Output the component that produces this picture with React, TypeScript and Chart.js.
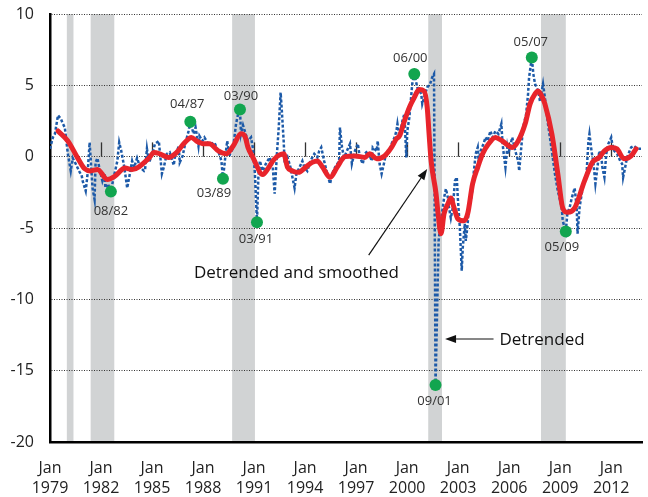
import React, { useEffect, useRef } from 'react';
import { Chart, registerables } from 'chart.js';

Chart.register(...registerables);

const xTickYears = [1979, 1982, 1985, 1988, 1991, 1994, 1997, 2000, 2003, 2006, 2009, 2012];
const yMin = -20;
const yMax = 10;
const xMin = 1979;
const xMax = 2013.81;

const recessionStarts = [1979.99, 1981.39, 1989.71, 2001.24, 2007.87];
const recessionEnds = [1980.38, 1982.78, 1991.05, 2002.05, 2009.33];

const detrendedDates = [
  1979.0, 1979.17, 1979.29, 1979.47, 1979.64, 1979.76, 1979.87, 1980.05, 1980.22, 1980.34,
  1980.51, 1980.75, 1980.86, 1980.92, 1981.1, 1981.21, 1981.33, 1981.39, 1981.5, 1981.62,
  1981.68, 1981.79, 1981.91, 1982.08, 1982.2, 1982.26, 1982.4, 1982.58, 1982.7, 1982.96,
  1983.07, 1983.19, 1983.37, 1983.54, 1983.71, 1983.83, 1983.95, 1984.12, 1984.3, 1984.53,
  1984.59, 1984.7, 1984.82, 1985.0, 1985.17, 1985.4, 1985.58, 1985.69, 1985.87, 1986.04,
  1986.28, 1986.33, 1986.57, 1986.63, 1986.8, 1986.92, 1987.15, 1987.25, 1987.44, 1987.56,
  1987.73, 1987.79, 1987.96, 1988.08, 1988.31, 1988.49, 1988.66, 1988.84, 1988.95, 1989.08,
  1989.17, 1989.3, 1989.42, 1989.54, 1989.77, 1989.94, 1990.06, 1990.17, 1990.23, 1990.35,
  1990.53, 1990.64, 1990.82, 1990.93, 1991.05, 1991.17, 1991.25, 1991.34, 1991.51, 1991.69,
  1991.92, 1992.1, 1992.21, 1992.33, 1992.45, 1992.56, 1992.62, 1992.74, 1992.8, 1992.97,
  1993.14, 1993.38, 1993.49, 1993.67, 1993.84, 1993.96, 1994.13, 1994.31, 1994.54, 1994.72,
  1994.83, 1994.95, 1995.12, 1995.3, 1995.47, 1995.59, 1995.76, 1996.0, 1996.05, 1996.17,
  1996.29, 1996.46, 1996.64, 1996.75, 1996.93, 1997.1, 1997.22, 1997.39, 1997.51, 1997.68,
  1997.92, 1997.98, 1998.21, 1998.27, 1998.38, 1998.5, 1998.67, 1998.79, 1998.97, 1999.08,
  1999.26, 1999.37, 1999.43, 1999.55, 1999.72, 1999.84, 1999.95, 2000.01, 2000.13, 2000.25,
  2000.3, 2000.42, 2000.6, 2000.83, 2000.89, 2001.0, 2001.18, 2001.35, 2001.47, 2001.58,
  2001.67, 2001.85, 2001.99, 2002.17, 2002.28, 2002.4, 2002.46, 2002.57, 2002.69, 2002.81,
  2002.92, 2002.98, 2003.1, 2003.21, 2003.27, 2003.39, 2003.45, 2003.56, 2003.62, 2003.74,
  2003.85, 2003.91, 2004.03, 2004.15, 2004.2, 2004.32, 2004.49, 2004.61, 2004.73, 2004.9,
  2005.02, 2005.19, 2005.37, 2005.54, 2005.6, 2005.66, 2005.78, 2005.89, 2005.95, 2006.18,
  2006.36, 2006.53, 2006.59, 2006.71, 2006.82, 2007.0, 2007.11, 2007.17, 2007.33, 2007.42,
  2007.52, 2007.7, 2007.81, 2007.99, 2008.1, 2008.28, 2008.51, 2008.69, 2008.86, 2009.09,
  2009.15, 2009.33, 2009.42, 2009.56, 2009.68, 2009.85, 2009.97, 2010.02, 2010.14, 2010.32,
  2010.55, 2010.66, 2010.72, 2010.84, 2010.96, 2011.07, 2011.19, 2011.3, 2011.42, 2011.48,
  2011.6, 2011.71, 2011.83, 2012.0, 2012.06, 2012.18, 2012.35, 2012.53, 2012.64, 2012.7,
  2012.82, 2012.93, 2013.17, 2013.34, 2013.52, 2013.75,
];
const detrendedValues = [
  0.55, 1.35, 1.6, 2.9, 2.65, 2.3, 2.05, 0.2, -1.0, -0.1,
  -0.5, -1.1, -1.3, -1.7, -2.4, -1.2, 1.0, -0.1, -2.2, -3.0,
  -0.4, -0.1, -0.85, -1.7, -1.2, -2.2, -1.9, -2.45, -1.7, -0.3,
  1.0, 0.4, -0.75, -2.2, -1.1, -0.3, -0.75, -0.1, -0.75, -1.0,
  -0.9, 0.55, -0.4, 0.1, 0.9, 1.1, -1.2, -0.75, 0.2, 0.3,
  -0.6, -0.1, 0.75, -0.4, 0.05, 0.75, 1.8, 2.45, 1.6, 2.05,
  0.75, 1.45, 1.1, 1.35, 0.9, 0.9, 1.0, 0.55, 0.2, -0.3,
  -1.55, -0.1, 1.1, 0.05, 0.65, 2.3, 3.0, 3.3, 1.6, 2.2,
  1.5, 1.1, 1.35, 0.6, -1.2, -4.6, -1.45, -0.3, -1.0, -0.5,
  -0.05, -0.75, -2.6, -0.05, 2.05, 4.5, 3.45, 1.1, -0.5, -0.05,
  -0.75, -2.2, -1.2, -0.75, -0.3, -0.75, -1.0, -0.3, 0.2, -0.05,
  0.4, 0.65, -0.3, -1.2, -1.9, -1.2, -0.75, -0.3, 2.05, 0.65,
  -0.05, 0.4, 0.9, -0.5, 0.4, 0.9, -0.05, -0.5, 0.2, 0.4,
  -0.3, 0.65, 0.4, 1.1, -0.5, -1.2, -0.3, 0.4, 0.4, 0.9,
  1.35, 1.8, 2.3, 1.35, 2.5, 3.0, -0.05, 1.8, 2.75, 4.4,
  5.1, 5.8, 4.85, 4.4, 3.7, 4.15, 4.85, 5.1, 5.55, 5.8,
  -16.0, -5.9, -4.5, -2.9, -2.25, -2.9, -3.55, -4.3, -3.55, -1.7,
  -1.45, -2.9, -5.0, -8.0, -6.4, -4.7, -5.9, -4.7, -3.55, -3.1,
  -2.2, -1.2, 0.2, 0.65, -0.3, 0.4, 0.9, 1.35, 1.1, 1.8,
  1.35, 1.8, 1.6, 2.3, 1.1, 0.4, -0.75, 0.65, 0.2, 1.35,
  0.4, -0.3, -1.0, 0.65, 2.05, 3.0, 4.4, 5.55, 6.95, 5.8,
  5.1, 4.6, 3.9, 5.1, 4.15, 2.3, 0.4, -1.2, -2.4, -3.55,
  -4.5, -5.25, -4.0, -3.55, -2.9, -2.2, -3.55, -5.4, -3.55, -2.2,
  -1.2, 1.1, 1.6, 0.4, -0.5, -1.9, -0.75, 0.4, -0.05, -0.75,
  -1.45, 0.2, 0.9, 1.35, 0.9, 0.4, 0.2, -0.3, -0.5, -1.45,
  -0.75, -0.05, 0.65, 0.75, 0.55, 0.55,
];

const smoothedDates = [
  1979.47, 1980.05, 1980.63, 1981.04, 1981.39, 1981.79, 1982.38, 1982.78, 1983.42, 1983.83,
  1984.82, 1985.11, 1985.46, 1985.98, 1986.45, 1986.86, 1987.32, 1987.61, 1988.08, 1988.37,
  1988.9, 1989.36, 1989.77, 1990.23, 1990.47, 1990.64, 1990.93, 1991.51, 1991.81, 1992.1,
  1992.39, 1992.74, 1992.97, 1993.26, 1993.61, 1994.02, 1994.42, 1994.72, 1995.01, 1995.47,
  1995.88, 1996.35, 1996.93, 1997.51, 1997.8, 1998.21, 1998.67, 1999.08, 1999.37, 1999.55,
  1999.84, 2000.13, 2000.42, 2000.71, 2001.0, 2001.18, 2001.29, 2001.41, 2001.7, 2001.82,
  2001.99, 2002.17, 2002.4, 2002.57, 2002.75, 2002.98, 2003.33, 2003.56, 2003.85, 2004.15,
  2004.44, 2004.79, 2005.19, 2005.6, 2006.18, 2006.53, 2006.94, 2007.23, 2007.52, 2007.7,
  2007.99, 2008.1, 2008.51, 2008.86, 2009.15, 2009.44, 2009.85, 2010.43, 2010.89, 2011.3,
  2011.6, 2012.0, 2012.33, 2012.76, 2013.17, 2013.46,
];
const smoothedValues = [
  1.8, 1.1, -0.1, -0.85, -1.0, -0.9, -1.6, -1.4, -0.8, -0.9,
  -0.1, 0.3, 0.2, -0.05, 0.3, 0.9, 1.35, 1.1, 0.9, 0.9,
  0.4, 0.2, 0.75, 1.6, 1.4, 0.65, -0.05, -1.25, -0.85, -0.3,
  0.05, 0.2, -0.75, -1.0, -1.1, -0.75, -0.4, -0.3, -0.7, -1.45,
  -0.75, 0.0, 0.05, -0.05, 0.2, -0.15, 0.05, 0.65, 1.25, 1.45,
  2.5, 3.45, 4.15, 4.7, 4.6, 3.45, 1.6, -0.3, -2.6, -4.0,
  -5.4, -4.0, -3.3, -2.9, -3.55, -4.35, -4.5, -4.0, -1.9, -0.75,
  0.2, 0.9, 1.35, 1.1, 0.65, 1.1, 2.3, 3.7, 4.4, 4.6,
  4.05, 3.7, 1.6, -1.2, -3.6, -3.9, -3.6, -1.7, -0.4, -0.05,
  0.4, 0.65, 0.55, -0.15, 0.05, 0.55,
];

const markerDates = [1982.58, 1987.25, 1989.17, 1990.17, 1991.17, 2000.42, 2001.67, 2007.33, 2009.33];
const markerValues = [-2.45, 2.45, -1.55, 3.3, -4.6, 5.8, -16.0, 6.95, -5.25];
const markerLabels = ['08/82', '04/87', '03/89', '03/90', '03/91', '06/00', '09/01', '05/07', '05/09'];

const FONT = '"Open Sans", "Noto Sans", sans-serif';

// label offsets (pixels) relative to the marker
const markerLabelOffsets: [number, number][] = [
  [0, 20], [-3, -17], [-9, 15], [1, -13], [-1, 17], [-4, -16], [-1, 16], [-1, -15], [-4, 16],
];

const bandsPlugin = {
  id: 'bands',
  beforeDraw(chart: any) {
    const { ctx, chartArea, scales } = chart;
    const xs = scales.x;
    ctx.save();
    ctx.fillStyle = '#d1d3d4';
    for (let i = 0; i < recessionStarts.length; i++) {
      const a = xs.getPixelForValue(recessionStarts[i]);
      const b = xs.getPixelForValue(recessionEnds[i]);
      ctx.fillRect(a, chartArea.top, b - a, chartArea.bottom - chartArea.top);
    }
    ctx.restore();
  },
  beforeDatasetsDraw(chart: any) {
    const { ctx, scales } = chart;
    const xs = scales.x;
    const ys = scales.y;
    const y0 = ys.getPixelForValue(0);
    const y1 = ys.getPixelForValue(1);
    ctx.save();
    ctx.strokeStyle = '#333';
    ctx.lineWidth = 1.3;
    for (const yr of xTickYears.slice(1)) {
      const x = Math.round(xs.getPixelForValue(yr)) + 0.5;
      ctx.beginPath();
      ctx.moveTo(x, y0);
      ctx.lineTo(x, y1);
      ctx.stroke();
    }
    ctx.restore();
  },
};

function arrow(ctx: CanvasRenderingContext2D, x1: number, y1: number, x2: number, y2: number) {
  const ang = Math.atan2(y2 - y1, x2 - x1);
  const hl = 11;
  const hw = 4;
  const bx = x2 - hl * Math.cos(ang);
  const by = y2 - hl * Math.sin(ang);
  ctx.beginPath();
  ctx.moveTo(x1, y1);
  ctx.lineTo(bx, by);
  ctx.stroke();
  ctx.beginPath();
  ctx.moveTo(x2, y2);
  ctx.lineTo(bx + hw * Math.sin(ang), by - hw * Math.cos(ang));
  ctx.lineTo(bx - hw * Math.sin(ang), by + hw * Math.cos(ang));
  ctx.closePath();
  ctx.fill();
}

const annotationPlugin = {
  id: 'annotations',
  afterDatasetsDraw(chart: any) {
    const { ctx, scales } = chart;
    const xs = scales.x;
    const ys = scales.y;
    const px = (v: number) => xs.getPixelForValue(v);
    const py = (v: number) => ys.getPixelForValue(v);
    ctx.save();
    ctx.fillStyle = '#333';
    ctx.font = `13px ${FONT}`;
    ctx.textAlign = 'center';
    ctx.textBaseline = 'middle';
    for (let i = 0; i < markerLabels.length; i++) {
      const [dx, dy] = markerLabelOffsets[i];
      ctx.fillText(markerLabels[i], px(markerDates[i]) + dx, py(markerValues[i]) + dy);
    }
    ctx.fillStyle = '#111';
    ctx.strokeStyle = '#111';
    ctx.lineWidth = 1.2;
    ctx.font = `17px ${FONT}`;
    ctx.fillText('Detrended and smoothed', px(1993.49), py(-8.15));
    ctx.fillText('Detrended', px(2007.93), py(-12.85));
    arrow(ctx, px(1997.74), py(-6.9), px(2001.18), py(-0.86));
    arrow(ctx, px(2005.08), py(-12.78), px(2002.23), py(-12.78));
    ctx.restore();
  },
};

export default function App() {
  const ref = useRef<HTMLCanvasElement>(null);
  useEffect(() => {
    if (!ref.current) return;
    const detrended = detrendedDates.map((d, i) => ({ x: d, y: detrendedValues[i] }));
    const smoothed = smoothedDates.map((d, i) => ({ x: d, y: smoothedValues[i] }));
    const markers = markerDates.map((d, i) => ({ x: d, y: markerValues[i] }));
    const chart = new Chart(ref.current, {
      type: 'line',
      data: {
        datasets: [
          {
            type: 'scatter',
            label: 'Turning points',
            data: markers,
            backgroundColor: '#12a54f',
            borderColor: '#12a54f',
            pointRadius: 6,
            pointBorderWidth: 0,
            order: 0,
          } as any,
          {
            label: 'Detrended and smoothed',
            data: smoothed,
            borderColor: '#e8242b',
            borderWidth: 5,
            pointRadius: 0,
            cubicInterpolationMode: 'monotone',
            borderCapStyle: 'round',
            borderJoinStyle: 'round',
            fill: false,
            order: 1,
          },
          {
            label: 'Detrended',
            data: detrended,
            borderColor: '#1d5aa8',
            borderWidth: 2.5,
            borderDash: [3, 2],
            pointRadius: 0,
            tension: 0,
            fill: false,
            order: 2,
          },
        ],
      },
      options: {
        responsive: false,
        animation: false,
        events: [],
        layout: { padding: { top: 14, right: 0, left: 0, bottom: 0 } },
        plugins: {
          legend: { display: false },
          tooltip: { enabled: false },
        },
        scales: {
          x: {
            type: 'linear',
            min: xMin,
            max: xMax,
            afterBuildTicks: (scale: any) => {
              scale.ticks = xTickYears.map((v) => ({ value: v }));
            },
            afterFit: (scale: any) => {
              scale.height = 55;
              scale.paddingLeft = 0;
              scale.paddingRight = 0;
            },
            grid: { display: false, drawTicks: false },
            border: { display: true, color: '#000', width: 2.5 },
            ticks: {
              autoSkip: false,
              maxRotation: 0,
              padding: 16,
              color: '#222',
              font: { family: FONT, size: 16, lineHeight: 1.25 },
              callback: (v: any) => ['Jan', String(v)],
            },
          },
          y: {
            min: yMin,
            max: yMax,
            afterFit: (scale: any) => {
              scale.width = 50;
              scale.paddingTop = 0;
              scale.paddingBottom = 0;
            },
            grid: { color: '#333', lineWidth: 1, drawTicks: false },
            border: { display: true, color: '#000', width: 2.5, dash: [1, 1.5] },
            ticks: {
              stepSize: 5,
              padding: 16,
              color: '#222',
              font: { family: FONT, size: 16 },
            },
          },
        },
      },
      plugins: [bandsPlugin, annotationPlugin],
    } as any);
    return () => chart.destroy();
  }, []);
  return (
    <div style={{ position: 'absolute', left: 0, top: 0, width: 648, height: 497, background: '#fff' }}>
      <canvas ref={ref} width={648} height={497} style={{ display: 'block' }} />
    </div>
  );
}
